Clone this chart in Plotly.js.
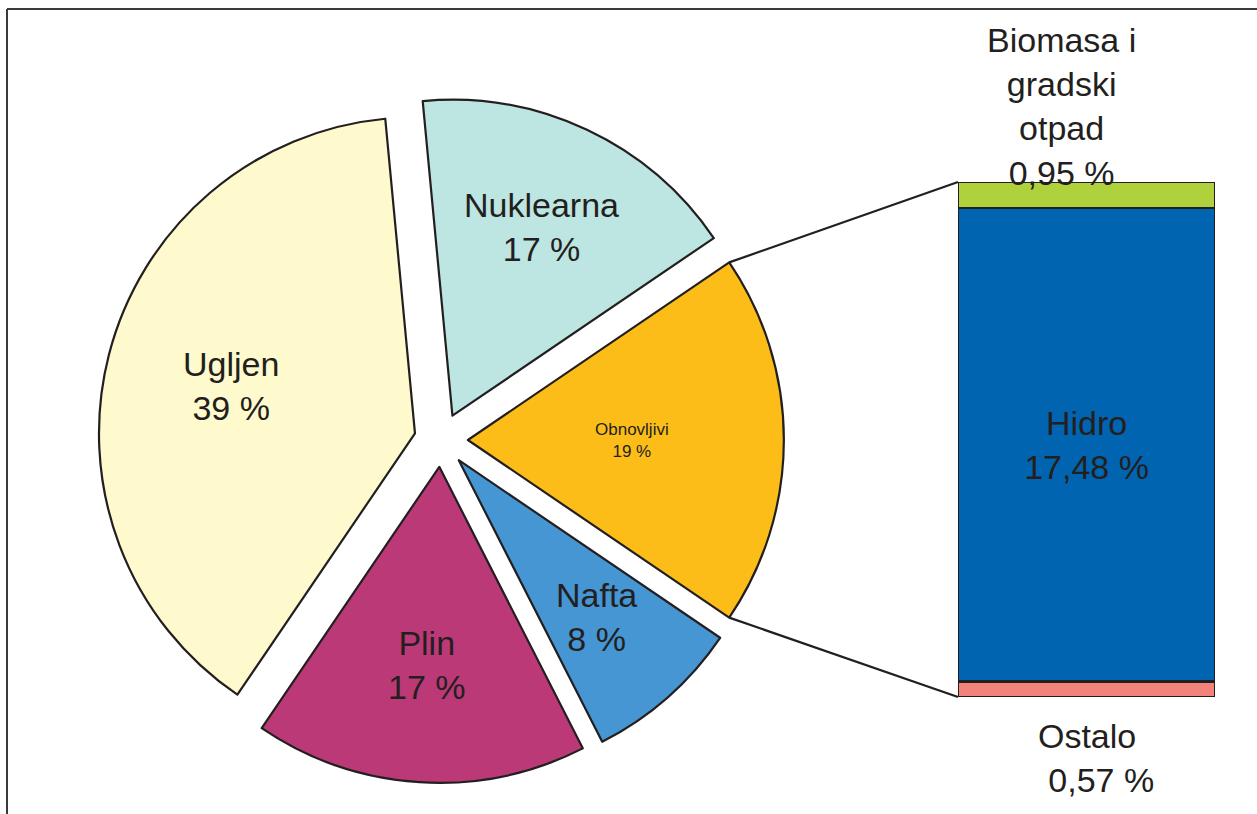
<!DOCTYPE html>
<html>
<head>
<meta charset="utf-8">
<script src="https://cdn.plot.ly/plotly-3.0.1.min.js"></script>
<style>
  html, body { margin: 0; padding: 0; background: #fff; }
  #chart { width: 1257px; height: 814px; }
</style>
</head>
<body>
<div id="chart"></div>
<script>
// Energy mix (pie) and split of the renewable slice (stacked bar)
const pie_labels = ["Nuklearna", "Obnovljivi", "Nafta", "Plin", "Ugljen"];
const pie_values = [17, 19, 8, 17, 39];
const pie_colors = ["#BDE5E1", "#FDBD19", "#4596D3", "#BC3977", "#FFFACD"];

const bar_labels = ["Ostalo", "Hidro", "Biomasa i<br>gradski<br>otpad"];
const bar_values = [0.57, 17.48, 0.95];
const bar_text = ["0,57 %", "17,48 %", "0,95 %"];
const bar_colors = ["#F3827B", "#0064B0", "#AFD13B"];

const W = 1257, H = 814;
const ink = "#231F20";
const font_family = "Liberation Sans, Arial, sans-serif";
const big = 34;

// pie placement in pixels
const pie_cx = 441, pie_cy = 440, pie_r = 316, pull = 0.085;
// how far out each label sits along its slice (fraction of radius)
const label_r = [0.66, 0.52, 0.66, 0.63, 0.6];
// bar placement in pixels
const bar_left = 958, bar_right = 1215, bar_top = 182, bar_bottom = 697;

const px = x => x / W;
const py = y => 1 - y / H;

let pie_total = pie_values.reduce((a, b) => a + b, 0);
let bar_total = bar_values.reduce((a, b) => a + b, 0);

// renewable slice is centred on 3 o'clock
let ren_idx = pie_labels.indexOf("Obnovljivi");
let ren_half = pie_values[ren_idx] / pie_total * 180;
let before = 0;
for (let i = 0; i < ren_idx; i++) before += pie_values[i];
let rotation = 90 - ren_half - before / pie_total * 360;

let half_box = pie_r * (1 + pull);

let pie_trace = {
  type: "pie",
  labels: pie_labels,
  values: pie_values,
  sort: false,
  direction: "clockwise",
  rotation: rotation,
  pull: pie_values.map(() => pull),
  marker: { colors: pie_colors, line: { color: ink, width: 2.2 } },
  textinfo: "none",
  hoverinfo: "none",
  showlegend: false,
  domain: {
    x: [px(pie_cx - half_box), px(pie_cx + half_box)],
    y: [py(pie_cy + half_box), py(pie_cy - half_box)]
  }
};

let bar_traces = bar_values.map((v, i) => ({
  type: "bar",
  x: [0],
  y: [v],
  width: 1,
  xaxis: "x",
  yaxis: "y",
  marker: { color: bar_colors[i], line: { color: ink, width: 2.2 } },
  text: bar_labels[i] == "Hidro" ? ["Hidro<br>" + bar_text[i]] : [""],
  textposition: "inside",
  insidetextanchor: "middle",
  textfont: { family: font_family, color: ink, size: big },
  hoverinfo: "none",
  showlegend: false
}));

// slice labels, placed along each slice's middle angle
let annotations = [];
let cum = 0;
for (let i = 0; i < pie_values.length; i++) {
  let mid = rotation + (cum + pie_values[i] / 2) / pie_total * 360; // clockwise from 12 o'clock
  cum += pie_values[i];
  let a = mid * Math.PI / 180;
  let d = pie_r * (pull + label_r[i]);
  let lx = pie_cx + d * Math.sin(a);
  let ly = pie_cy - d * Math.cos(a);
  annotations.push({
    xref: "paper", yref: "paper", x: px(lx), y: py(ly), xanchor: "center", yanchor: "middle",
    text: pie_labels[i] + "<br>" + pie_values[i] + " %", showarrow: false, align: "center",
    font: { family: font_family, color: ink, size: pie_labels[i] == "Obnovljivi" ? 17 : big }
  });
}

annotations.push(
  { xref: "x", yref: "y", x: 0, y: bar_total, yanchor: "bottom", xanchor: "center", xshift: -25, yshift: -12,
    text: bar_labels[2] + "<br>" + bar_text[2], showarrow: false, align: "center",
    font: { family: font_family, color: ink, size: big } },
  { xref: "x", yref: "y", x: 0, y: 0, yanchor: "top", xanchor: "center", xshift: 0, yshift: -18,
    text: bar_labels[0] + "<br>   " + bar_text[0], showarrow: false, align: "center",
    font: { family: font_family, color: ink, size: big } }
);

// connector lines from the renewable slice corners to the bar
let ren_shift = pie_r * pull;
let ang = ren_half * Math.PI / 180;
let cx_pulled = pie_cx + ren_shift;
let c_top = [cx_pulled + pie_r * Math.cos(ang), pie_cy - pie_r * Math.sin(ang)];
let c_bot = [cx_pulled + pie_r * Math.cos(ang), pie_cy + pie_r * Math.sin(ang)];

let shapes = [
  { type: "line", xref: "paper", yref: "paper", x0: px(c_top[0]), y0: py(c_top[1]), x1: px(bar_left), y1: py(bar_top), line: { color: ink, width: 2.2 } },
  { type: "line", xref: "paper", yref: "paper", x0: px(c_bot[0]), y0: py(c_bot[1]), x1: px(bar_left), y1: py(bar_bottom), line: { color: ink, width: 2.2 } },
  // frame on the left and top
  { type: "line", xref: "paper", yref: "paper", x0: px(7), y0: py(H), x1: px(7), y1: py(9), line: { color: "#3a3a3a", width: 2 } },
  { type: "line", xref: "paper", yref: "paper", x0: px(7), y0: py(9), x1: px(W), y1: py(9), line: { color: "#3a3a3a", width: 2 } }
];

let layout = {
  width: W,
  height: H,
  margin: { t: 0, b: 0, l: 0, r: 0 },
  paper_bgcolor: "#ffffff",
  plot_bgcolor: "rgba(0,0,0,0)",
  barmode: "stack",
  font: { family: font_family, color: ink },
  xaxis: { domain: [px(bar_left), px(bar_right)], range: [-0.5, 0.5], visible: false, fixedrange: true },
  yaxis: { domain: [py(bar_bottom), py(bar_top)], range: [0, bar_total], visible: false, fixedrange: true },
  shapes: shapes,
  annotations: annotations
};

Plotly.newPlot("chart", [pie_trace].concat(bar_traces), layout, { displayModeBar: false, staticPlot: true });
</script>
</body>
</html>
